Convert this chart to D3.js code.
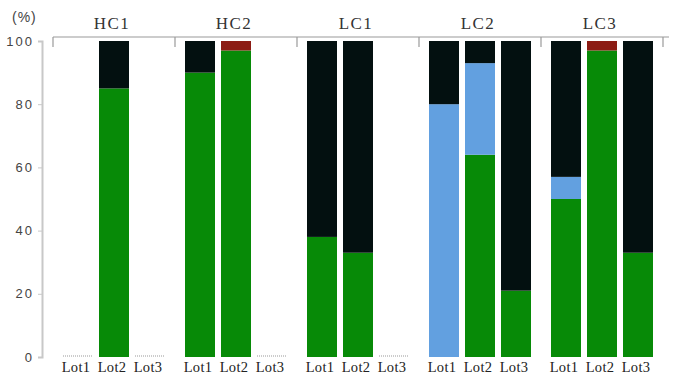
<!DOCTYPE html>
<html>
<head>
<meta charset="utf-8">
<script src="https://cdn.jsdelivr.net/npm/d3@7"></script>
<style>
html,body{margin:0;padding:0;background:#fff;}
svg{display:block;}
</style>
</head>
<body>
<svg id="chart" width="673" height="377"></svg>
<script>
// ---- data ----
const groups = ["HC1", "HC2", "LC1", "LC2", "LC3"];
const lots = ["Lot1", "Lot2", "Lot3"];
// values per bar, ordered group by group, Lot1..Lot3
const greenVals = [0, 85, 0,  90, 97, 0,  38, 33, 0,  0, 64, 21,  50, 97, 33];
const blueVals  = [0, 0, 0,   0, 0, 0,    0, 0, 0,    80, 29, 0,  7, 0, 0];
const blackVals = [0, 15, 0,  10, 0, 0,   62, 67, 0,  20, 7, 79,  43, 0, 67];
const redVals   = [0, 0, 0,   0, 3, 0,    0, 0, 0,    0, 0, 0,    0, 3, 0];
const yTicks = [0, 20, 40, 60, 80, 100];
const seriesKeys = ["green", "blue", "black", "red"];
const seriesColors = {green: "#078a07", blue: "#62a0e0", black: "#031010", red: "#8c1c14"};

(function () {
const rows = [];
groups.forEach((g, gi) => lots.forEach((l, li) => {
  const i = gi * 3 + li;
  rows.push({group: g, lot: l, green: greenVals[i], blue: blueVals[i], black: blackVals[i], red: redVals[i]});
}));

const svg = d3.select("#chart");
const plotTop = 41, plotBottom = 357;
const y = d3.scaleLinear().domain([0, 100]).range([plotBottom, plotTop]);
const xg = d3.scaleBand().domain(groups).range([53, 663]).paddingInner(0).paddingOuter(0);
const xl = d3.scaleBand().domain(lots).range([0, xg.bandwidth()]).paddingInner(0.167).paddingOuter(0.278);

// y axis
const yAxis = svg.append("g").attr("transform", "translate(42,0)")
  .call(d3.axisLeft(y).tickValues(yTicks).tickSize(4).tickPadding(4));
yAxis.select(".domain").attr("stroke", "#c8c8c8").attr("stroke-width", 2);
yAxis.selectAll(".tick line").attr("stroke", "#c8c8c8");
yAxis.selectAll(".tick text").attr("fill", "#444").attr("font-family", "Liberation Sans, Arial, sans-serif")
  .attr("font-size", 13).attr("letter-spacing", 2);

svg.append("text").attr("x", 12).attr("y", 22).text("(%)")
  .attr("font-family", "Liberation Sans, Arial, sans-serif").attr("font-size", 14)
  .attr("fill", "#444").attr("letter-spacing", 1);

// top bracket
const br = svg.append("g").attr("stroke", "#9a9a9a").attr("fill", "none");
br.append("line").attr("x1", xg.range()[0]).attr("x2", 669).attr("y1", 37).attr("y2", 37).attr("stroke-width", 1.2);
const bounds = groups.map(g => xg(g)).concat([xg.range()[1]]);
bounds.forEach(b => br.append("line").attr("x1", b).attr("x2", b).attr("y1", 37).attr("y2", 47).attr("stroke-width", 1.2));

// group labels
svg.selectAll("text.grp").data(groups).join("text").attr("class", "grp")
  .attr("x", g => xg(g) + xg.bandwidth() / 2 - 2).attr("y", 29)
  .attr("text-anchor", "middle").attr("font-family", "Liberation Serif, Times New Roman, serif")
  .attr("font-size", 17).attr("letter-spacing", 1.5).attr("fill", "#333").text(g => g);

// bars
const stack = d3.stack().keys(seriesKeys)(rows);
const barX = d => xg(d.data.group) + xl(d.data.lot);
svg.append("g").selectAll("g").data(stack).join("g")
  .attr("fill", s => seriesColors[s.key])
  .selectAll("rect").data(s => s.filter(d => d[1] > d[0])).join("rect")
  .attr("x", barX).attr("width", xl.bandwidth())
  .attr("y", d => y(d[1])).attr("height", d => y(d[0]) - y(d[1]));

// baseline marks for empty bars
svg.append("g").selectAll("line").data(rows.filter(r => seriesKeys.every(k => r[k] === 0))).join("line")
  .attr("x1", r => xg(r.group) + xl(r.lot)).attr("x2", r => xg(r.group) + xl(r.lot) + xl.bandwidth())
  .attr("y1", plotBottom - 1).attr("y2", plotBottom - 1)
  .attr("stroke", "#999").attr("stroke-width", 1).attr("stroke-dasharray", "1,1");

// lot labels
svg.append("g").selectAll("text").data(rows).join("text")
  .attr("x", r => xg(r.group) + xl(r.lot) + xl.bandwidth() / 2 - 2).attr("y", 372)
  .attr("text-anchor", "middle").attr("font-family", "Liberation Serif, Times New Roman, serif")
  .attr("font-size", 14.5).attr("letter-spacing", 0.3).attr("fill", "#222").text(r => r.lot);
})();
</script>
</body>
</html>
